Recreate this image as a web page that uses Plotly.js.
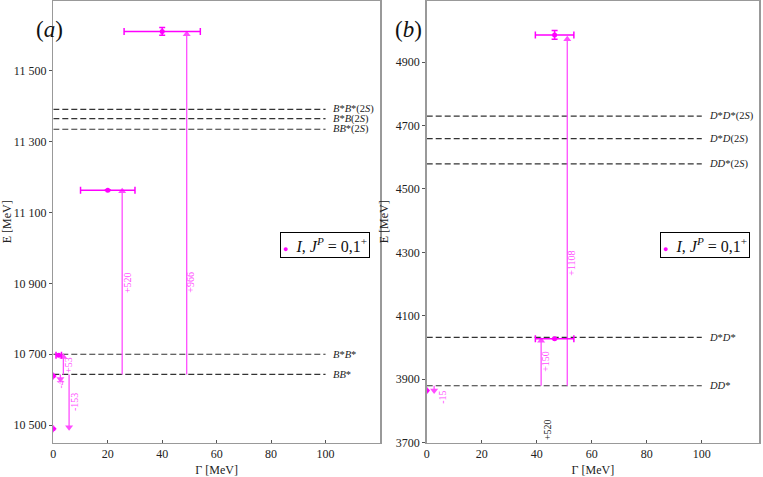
<!DOCTYPE html>
<html>
<head>
<meta charset="utf-8">
<script src="https://cdn.plot.ly/plotly-3.0.1.min.js"></script>
<style>
  html, body { margin: 0; padding: 0; background: #fff; }
  #chart { width: 763px; height: 477px; }
</style>
</head>
<body>
<div id="chart"></div>
<script>
// ---- axis ticks ----
const gammaTicks = [0, 20, 40, 60, 80, 100];
const eTicksA = [10500, 10700, 10900, 11100, 11300, 11500];
const eLabelsA = ['10 500', '10 700', '10 900', '11 100', '11 300', '11 500'];
const eTicksB = [3700, 3900, 4100, 4300, 4500, 4700, 4900];
const eLabelsB = ['3700', '3900', '4100', '4300', '4500', '4700', '4900'];

// ---- (a) bottom sector ----
const thrNamesA = ['<i>B</i>*<i>B</i>*(2<i>S</i>)', '<i>B</i>*<i>B</i>(2<i>S</i>)', '<i>BB</i>*(2<i>S</i>)', '<i>B</i>*<i>B</i>*', '<i>BB</i>*'];
const thrEA = [11391, 11365, 11335, 10700, 10643];
const thrSpan = [0, 100];

const stGammaA = [40, 20, 2, 0, 0];
const stEA = [11611, 11163, 10697, 10639, 10490];
const stDGammaA = [14, 10, 1, null, null];
const stDEA = [11, 1, null, null, null];

const arGammaA = [25.3, 49, 3.7, 2.6, 5.8];
const arFromA = [10643, 10643, 10643, 10643, 10643];
const arToA = [11160, 11603, 10692, 10630, 10494];
const arTextA = ['+520', '+966', '+53', '-4', '-153'];
const arLabGammaA = [27.2, 50.6, 5.8, 2.65, 7.6];
const arLabEA = [10902, 10902, 10670, 10613, 10565];

// ---- (b) charm sector ----
const thrNamesB = ['<i>D</i>*<i>D</i>*(2<i>S</i>)', '<i>D</i>*<i>D</i>(2<i>S</i>)', '<i>DD</i>*(2<i>S</i>)', '<i>D</i>*<i>D</i>*', '<i>DD</i>*'];
const thrEB = [4730, 4659, 4579, 4032, 3879];

const stGammaB = [46.5, 46.5, 0];
const stEB = [4986, 4027, 3864];
const stDGammaB = [7, 7, null];
const stDEB = [14, null, null];

const arGammaB = [41.6, 51.1, 2.7];
const arFromB = [3879, 3879, 3879];
const arToB = [4021, 4972, 3864];
const arTextB = ['+150', '+1108', '-15'];
const arLabGammaB = [43.4, 52.8, 5.9];
const arLabEB = [3955, 4267, 3844];

const offTextB = ['+520'];
const offGammaB = [44.2];
const offEB = [3740];

const stateName = '<i>I</i>, <i>J</i><sup><i>P</i></sup> = 0,1<sup>+</sup>';

const SERIF = "'Liberation Serif', 'Times New Roman', serif";
const MAG = '#ff00ff';
const MAG_LIGHT = '#ff4dff';

const traces = [];
const annotations = [];

function addPanel(xa, ya, names, thrE, stG, stE, stDG, stDE, arG, arFrom, arTo, arText, labG, labE) {
    names.forEach((name, i) => {
        traces.push({
            x: thrSpan, y: [thrE[i], thrE[i]], xaxis: xa, yaxis: ya,
            type: 'scatter', mode: 'lines', showlegend: false, hoverinfo: 'skip',
            line: { color: '#333', width: 1.2, dash: '6px,3px' }
        });
        annotations.push({
            x: thrSpan[1], y: thrE[i], xref: xa, yref: ya, text: name, showarrow: false,
            xanchor: 'left', xshift: 5, font: { family: SERIF, size: 10.5, color: '#222' }
        });
    });

    // arrow shafts
    arG.forEach((g, i) => {
        traces.push({
            x: [g, g], y: [arFrom[i], arTo[i]], xaxis: xa, yaxis: ya,
            type: 'scatter', mode: 'lines', showlegend: false, hoverinfo: 'skip',
            line: { color: MAG_LIGHT, width: 1.3 }
        });
        annotations.push({
            x: labG[i], y: labE[i], xref: xa, yref: ya, text: arText[i], showarrow: false,
            textangle: -90, font: { family: SERIF, size: 10, color: MAG_LIGHT }
        });
    });
    // arrow heads
    traces.push({
        x: arG, y: arTo, xaxis: xa, yaxis: ya,
        type: 'scatter', mode: 'markers', showlegend: false, hoverinfo: 'skip', cliponaxis: false,
        marker: {
            color: MAG_LIGHT, size: 7,
            symbol: arTo.map((t, i) => (t > arFrom[i] ? 'triangle-up' : 'triangle-down'))
        }
    });

    traces.push({
        x: stG, y: stE, xaxis: xa, yaxis: ya, type: 'scatter', mode: 'markers',
        name: stateName, showlegend: false, hoverinfo: 'x+y',
        marker: { color: MAG, size: 5 },
        error_x: { type: 'data', array: stDG, color: MAG, thickness: 1.5, width: 3.5 },
        error_y: { type: 'data', array: stDE, color: MAG, thickness: 1.5, width: 3 }
    });
}

addPanel('x', 'y', thrNamesA, thrEA, stGammaA, stEA, stDGammaA, stDEA,
    arGammaA, arFromA, arToA, arTextA, arLabGammaA, arLabEA);
addPanel('x2', 'y2', thrNamesB, thrEB, stGammaB, stEB, stDGammaB, stDEB,
    arGammaB, arFromB, arToB, arTextB, arLabGammaB, arLabEB);

offTextB.forEach((t, i) => {
    annotations.push({
        x: offGammaB[i], y: offEB[i], xref: 'x2', yref: 'y2', text: t, showarrow: false,
        textangle: -90, font: { family: SERIF, size: 10, color: '#222' }
    });
});

// boxed key in each panel
const keyText = '<span style="color:#ff00ff;font-size:9px">●</span>  ' + stateName;
[324.5, 704.5].forEach(cx => {
    annotations.push({
        x: cx / 763, y: 1 - 244.5 / 477, xref: 'paper', yref: 'paper', text: keyText, showarrow: false,
        xanchor: 'center', yanchor: 'middle', bgcolor: '#fff', bordercolor: '#000', borderwidth: 1, borderpad: 2,
        font: { family: SERIF, size: 16, color: '#111' }
    });
});

// panel tags
annotations.push(
    { x: 34 / 763, y: 1 - 15 / 477, xref: 'paper', yref: 'paper', text: '(<i>a</i>)', showarrow: false,
      font: { family: SERIF, size: 23, color: '#111' } },
    { x: 408 / 763, y: 1 - 15 / 477, xref: 'paper', yref: 'paper', text: '(<i>b</i>)', showarrow: false,
      font: { family: SERIF, size: 23, color: '#111' } }
);

const xAxisBase = {
    range: [0, 120], tickvals: gammaTicks, ticks: 'inside', ticklen: 3, tickcolor: '#555',
    showgrid: false, zeroline: false, showline: true, mirror: true, linecolor: '#999', linewidth: 1.5,
    tickfont: { family: SERIF, size: 12, color: '#222' },
    title: { text: 'Γ [MeV]', font: { family: SERIF, size: 12, color: '#222' }, standoff: 6 }
};
const yAxisBase = {
    ticks: 'outside', ticklen: 3, tickcolor: '#555',
    showgrid: false, zeroline: false, showline: true, mirror: true, linecolor: '#999', linewidth: 1.5,
    tickfont: { family: SERIF, size: 12, color: '#222' },
    title: { text: 'E [MeV]', font: { family: SERIF, size: 12, color: '#222' }, standoff: 4 }
};

const layout = {
    width: 763, height: 477,
    margin: { l: 0, r: 0, t: 0, b: 0 },
    paper_bgcolor: '#fff', plot_bgcolor: '#fff',
    font: { family: SERIF },
    showlegend: false,
    xaxis: { ...xAxisBase, domain: [53.3 / 763, 380 / 763], anchor: 'y' },
    yaxis: { ...yAxisBase, domain: [1 - 442.5 / 477, 1 - 1 / 477], range: [10451, 11697],
             tickvals: eTicksA, ticktext: eLabelsA, anchor: 'x' },
    xaxis2: { ...xAxisBase, domain: [426.7 / 763, 759 / 763], range: [0, 120.8], anchor: 'y2' },
    yaxis2: { ...yAxisBase, domain: [1 - 442.5 / 477, 1 - 1 / 477], range: [3700, 5093],
              tickvals: eTicksB, ticktext: eLabelsB, anchor: 'x2' },
    annotations: annotations
};

Plotly.newPlot('chart', traces, layout, { displayModeBar: false, staticPlot: true });
</script>
</body>
</html>
